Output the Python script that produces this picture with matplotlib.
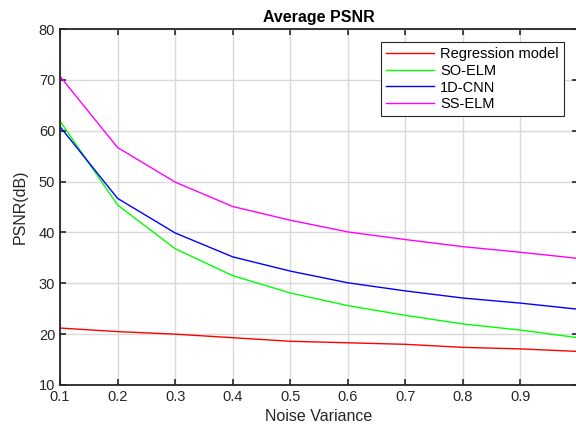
import matplotlib
matplotlib.use("Agg")
import matplotlib.pyplot as plt

noise = [0.1, 0.2, 0.3, 0.4, 0.5, 0.6, 0.7, 0.8, 0.9, 1.0]
regression = [21.2, 20.5, 20.0, 19.3, 18.6, 18.3, 18.0, 17.4, 17.1, 16.6]
so_elm = [61.9, 45.4, 36.8, 31.5, 28.1, 25.6, 23.7, 22.0, 20.8, 19.3]
cnn_1d = [60.8, 46.7, 39.9, 35.2, 32.4, 30.1, 28.5, 27.1, 26.1, 24.9]
ss_elm = [70.7, 56.7, 49.9, 45.1, 42.4, 40.1, 38.6, 37.2, 36.1, 34.9]

plt.rcParams['font.family'] = ['Liberation Sans', 'DejaVu Sans']

fig = plt.figure(figsize=(5.76, 4.30), dpi=100)
# axes extends a little past the right edge, like the cropped original
ax = fig.add_axes([60 / 576, 1 - 385 / 430, 518 / 576, 356 / 430])

ax.plot(noise, regression, color='#ff0000', lw=1, label='Regression model')
ax.plot(noise, so_elm, color='#00ff00', lw=1, label='SO-ELM')
ax.plot(noise, cnn_1d, color='#0000ff', lw=1, label='1D-CNN')
ax.plot(noise, ss_elm, color='#ff00ff', lw=1, label='SS-ELM')

ax.set_xlim(0.1, 1.0)
ax.set_ylim(10, 80)
ax.set_xticks([0.1, 0.2, 0.3, 0.4, 0.5, 0.6, 0.7, 0.8, 0.9])
ax.set_xticklabels(['0.1', '0.2', '0.3', '0.4', '0.5', '0.6', '0.7', '0.8', '0.9'])
ax.set_yticks(range(10, 81, 10))

ax.grid(True, color='#d9d9d9', lw=1)
ax.set_axisbelow(True)
ax.tick_params(direction='in', top=True, right=True, length=4, width=1.2,
               labelsize=10.5, colors='#262626')
for s in ax.spines.values():
    s.set_color('#262626')
    s.set_linewidth(1.3)

ax.set_xlabel('Noise Variance', fontsize=11.5, color='#262626')
ax.set_ylabel('PSNR(dB)', fontsize=11.5, color='#262626', labelpad=8)
ax.set_title('Average PSNR', fontsize=11.5, fontweight='bold', pad=5)

leg = ax.legend(loc='upper left', bbox_to_anchor=(0.62, 0.963), fontsize=10.5,
                fancybox=False, framealpha=1, edgecolor='#262626',
                handlelength=3.3, handletextpad=0.4, borderpad=0.35,
                labelspacing=0.18, borderaxespad=0)
leg.get_frame().set_linewidth(0.8)

fig.savefig('out.png', dpi=100)
